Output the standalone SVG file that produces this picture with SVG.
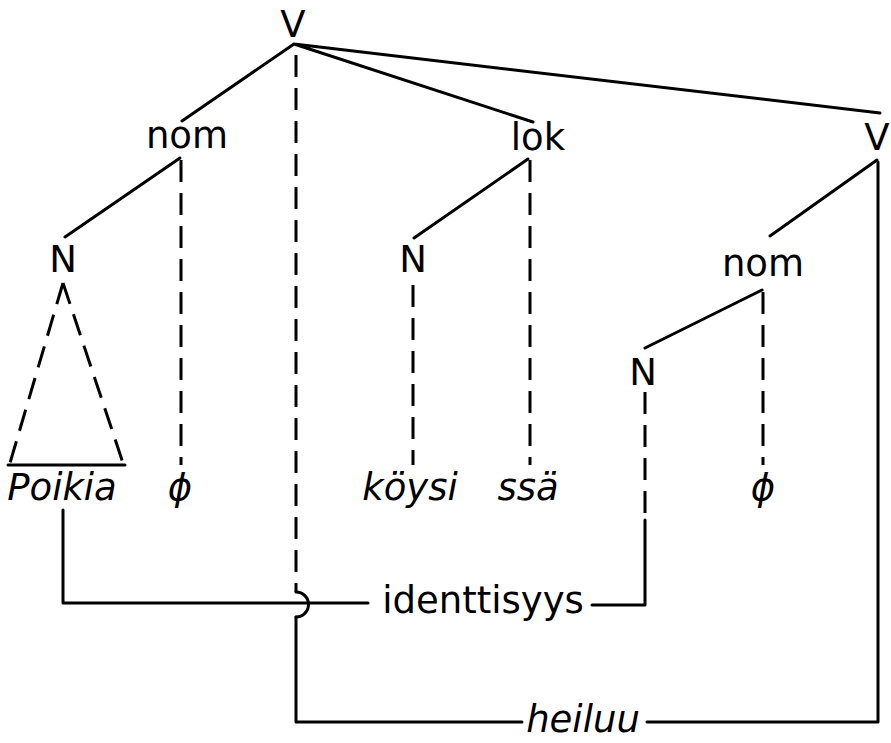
<svg xmlns="http://www.w3.org/2000/svg" width="891" height="743" viewBox="0 0 891 743">
<style>
text{font-family:"DejaVu Sans","Liberation Sans",sans-serif;font-size:37px;fill:#000;text-anchor:middle}
.it{font-style:italic}
.s{fill:none;stroke:#000;stroke-width:3;stroke-linecap:round;stroke-linejoin:round}
.d{fill:none;stroke:#000;stroke-width:3;stroke-dasharray:22 11}
</style>
<rect width="891" height="743" fill="#fff"/>
<g id="connectors">
<path class="s" d="M294,44L182,121M294,44L533,122M294,44L880,113"/>
<path class="s" d="M180,158L65,237M528,159L414,238M877,160L770,236M762,290L645,348"/>
<path class="s" d="M878,162V722H647M522,722H296V617"/>
<path class="s" d="M296,592A12.5,12.5 0 0 1 296,617"/>
<path class="d" d="M296,55V592"/>
<path class="d" d="M181,160V465M413,285V465M530,160V465M763,292V465M645,392V520"/>
<path class="s" d="M645,520V605H592"/>
<path class="s" d="M63,510V603H368"/>
<path class="d" d="M63,283L10,463M63,283L123,463"/>
<path class="s" d="M8,465H125"/>
</g>
<g id="V-top"><text x="293" y="37">V</text></g>
<g id="nom-left"><text x="187" y="148">nom</text></g>
<g id="lok"><text x="538" y="150">lok</text></g>
<g id="V-right"><text x="877" y="150">V</text></g>
<g id="N-left"><text x="63" y="272">N</text></g>
<g id="N-mid"><text x="413" y="272">N</text></g>
<g id="nom-right"><text x="763" y="276">nom</text></g>
<g id="N-right"><text x="643" y="385">N</text></g>
<g id="Poikia"><text class="it" x="62" y="500">Poikia</text></g>
<g id="phi-left"><text class="it" x="180" y="500">ϕ</text></g>
<g id="koysi"><text class="it" x="410" y="500">köysi</text></g>
<g id="ssa"><text class="it" x="528" y="500">ssä</text></g>
<g id="phi-right"><text class="it" x="763" y="500">ϕ</text></g>
<g id="identtisyys"><text x="483" y="613">identtisyys</text></g>
<g id="heiluu"><text class="it" x="583" y="732">heiluu</text></g>
</svg>
